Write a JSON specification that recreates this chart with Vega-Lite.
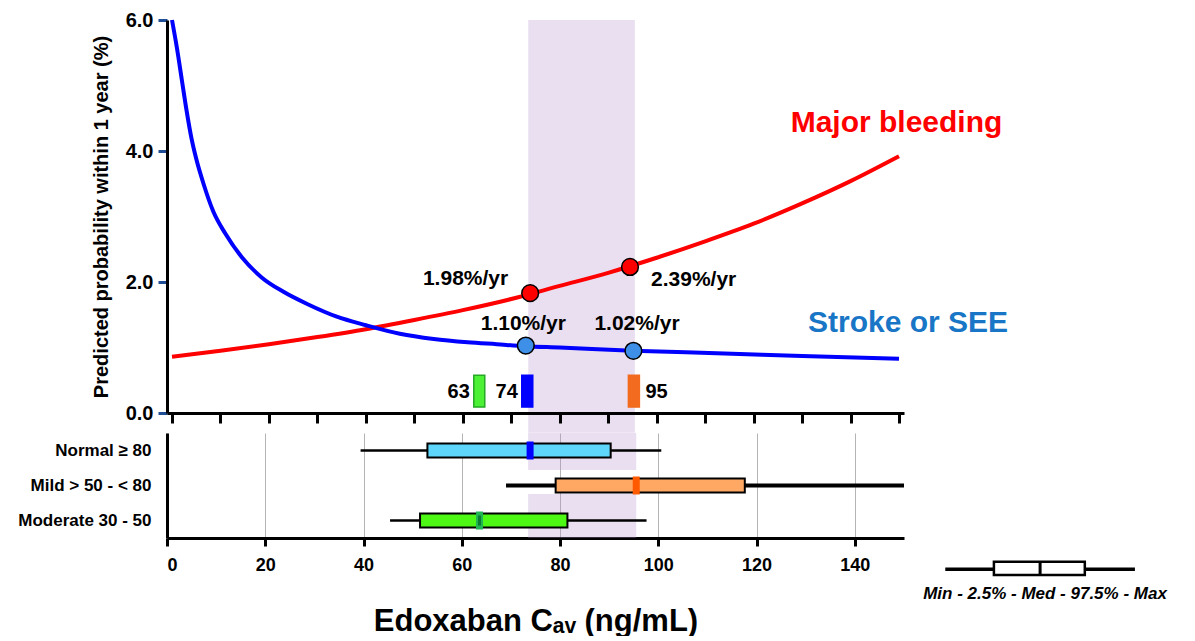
{
  "$schema": "https://vega.github.io/schema/vega-lite/v6.json",
  "background": "white",
  "padding": {"left": 17, "top": 10, "right": 5, "bottom": 0},
  "config": {
    "font": "Liberation Sans",
    "view": {"stroke": null},
    "axis": {"labelColor": "black", "titleColor": "black", "labelFont": "Liberation Sans", "titleFont": "Liberation Sans"}
  },
  "datasets": {
    "band": [{"from": 73.5, "to": 95.5}],
    "curves": [
      {"series": "Major bleeding", "conc": 0, "prob": 0.86},
      {"series": "Major bleeding", "conc": 10, "prob": 0.95},
      {"series": "Major bleeding", "conc": 20, "prob": 1.05},
      {"series": "Major bleeding", "conc": 30, "prob": 1.16},
      {"series": "Major bleeding", "conc": 40, "prob": 1.28},
      {"series": "Major bleeding", "conc": 50, "prob": 1.42},
      {"series": "Major bleeding", "conc": 60, "prob": 1.57},
      {"series": "Major bleeding", "conc": 70, "prob": 1.74},
      {"series": "Major bleeding", "conc": 80, "prob": 1.94},
      {"series": "Major bleeding", "conc": 90, "prob": 2.14},
      {"series": "Major bleeding", "conc": 100, "prob": 2.37},
      {"series": "Major bleeding", "conc": 110, "prob": 2.62},
      {"series": "Major bleeding", "conc": 120, "prob": 2.89},
      {"series": "Major bleeding", "conc": 130, "prob": 3.2},
      {"series": "Major bleeding", "conc": 140, "prob": 3.54},
      {"series": "Major bleeding", "conc": 150, "prob": 3.92},
      {"series": "Stroke or SEE", "conc": 0, "prob": 6.0},
      {"series": "Stroke or SEE", "conc": 1, "prob": 5.58},
      {"series": "Stroke or SEE", "conc": 2, "prob": 5.1},
      {"series": "Stroke or SEE", "conc": 3, "prob": 4.62},
      {"series": "Stroke or SEE", "conc": 4, "prob": 4.2},
      {"series": "Stroke or SEE", "conc": 5, "prob": 3.88},
      {"series": "Stroke or SEE", "conc": 6.5, "prob": 3.5},
      {"series": "Stroke or SEE", "conc": 8.5, "prob": 3.08},
      {"series": "Stroke or SEE", "conc": 11, "prob": 2.74},
      {"series": "Stroke or SEE", "conc": 14.5, "prob": 2.37},
      {"series": "Stroke or SEE", "conc": 18.5, "prob": 2.07},
      {"series": "Stroke or SEE", "conc": 23, "prob": 1.85},
      {"series": "Stroke or SEE", "conc": 28, "prob": 1.66},
      {"series": "Stroke or SEE", "conc": 34, "prob": 1.47},
      {"series": "Stroke or SEE", "conc": 40, "prob": 1.34},
      {"series": "Stroke or SEE", "conc": 47, "prob": 1.21},
      {"series": "Stroke or SEE", "conc": 54, "prob": 1.13},
      {"series": "Stroke or SEE", "conc": 61, "prob": 1.08},
      {"series": "Stroke or SEE", "conc": 67, "prob": 1.05},
      {"series": "Stroke or SEE", "conc": 73, "prob": 1.02},
      {"series": "Stroke or SEE", "conc": 80, "prob": 1.0},
      {"series": "Stroke or SEE", "conc": 95, "prob": 0.95},
      {"series": "Stroke or SEE", "conc": 114, "prob": 0.91},
      {"series": "Stroke or SEE", "conc": 130, "prob": 0.87},
      {"series": "Stroke or SEE", "conc": 150, "prob": 0.83}
    ],
    "points": [
      {"series": "Major bleeding", "conc": 73.9, "prob": 1.83, "label": "1.98%/yr"},
      {"series": "Major bleeding", "conc": 94.5, "prob": 2.23, "label": "2.39%/yr"},
      {"series": "Stroke or SEE", "conc": 73.0, "prob": 1.03, "label": "1.10%/yr"},
      {"series": "Stroke or SEE", "conc": 95.2, "prob": 0.95, "label": "1.02%/yr"}
    ],
    "medians": [
      {"group": "Moderate 30 - 50", "med": 63.4, "label": "63"},
      {"group": "Normal ≥ 80", "med": 73.3, "label": "74"},
      {"group": "Mild > 50 - < 80", "med": 95.3, "label": "95"}
    ],
    "boxes": [
      {"group": "Normal ≥ 80", "min": 39.4, "p2_5": 53.0, "med": 73.9, "p97_5": 90.3, "max": 100.6},
      {"group": "Mild > 50 - < 80", "min": 69.0, "p2_5": 79.1, "med": 95.5, "p97_5": 117.6, "max": 150},
      {"group": "Moderate 30 - 50", "min": 45.4, "p2_5": 51.5, "med": 63.6, "p97_5": 81.5, "max": 97.6}
    ]
  },
  "spacing": 0,
  "resolve": {"scale": {"x": "independent", "y": "independent", "color": "independent", "fill": "independent", "stroke": "independent", "strokeWidth": "independent"}},
  "vconcat": [
    {
      "width": 737,
      "height": 393,
      "resolve": {"scale": {"fill": "independent", "stroke": "independent"}},
      "layer": [
        {
          "data": {"name": "band"},
          "mark": {"type": "rect", "fill": "#b694cd", "opacity": 0.3},
          "encoding": {
            "x": {"field": "from", "type": "quantitative", "scale": {"domain": [0, 150], "nice": false},
              "axis": {"values": [0,10,20,30,40,50,60,70,80,90,100,110,120,130,140,150], "labels": false, "grid": false, "domainColor": "black", "domainWidth": 3, "tickColor": "black", "tickWidth": 3, "tickSize": 10, "title": null, "zindex": 1}},
            "x2": {"field": "to"},
            "y": {"datum": 6, "type": "quantitative", "scale": {"domain": [0, 6], "nice": false},
              "axis": {"values": [0, 2, 4, 6], "format": ".1f", "grid": false, "domainColor": "black", "domainWidth": 3, "tickColor": "#1f4e96", "tickWidth": 3, "tickSize": 9, "labelFontSize": 20, "labelFontWeight": "bold", "labelPadding": 5, "title": "Predicted probability within 1 year (%)", "titleFontSize": 20, "titleFontWeight": "bold", "titlePadding": 14}},
            "y2": {"datum": -0.3}
          }
        },
        {
          "data": {"name": "curves"},
          "mark": {"type": "line", "strokeWidth": 4, "interpolate": "monotone"},
          "encoding": {
            "x": {"field": "conc", "type": "quantitative"},
            "y": {"field": "prob", "type": "quantitative"},
            "color": {"field": "series", "type": "nominal", "scale": {"domain": ["Major bleeding", "Stroke or SEE"], "range": ["#ff0000", "#0000ff"]}, "legend": null}
          }
        },
        {
          "data": {"name": "points"},
          "mark": {"type": "circle", "size": 280, "stroke": "black", "strokeWidth": 1.5, "opacity": 1},
          "encoding": {
            "x": {"field": "conc", "type": "quantitative"},
            "y": {"field": "prob", "type": "quantitative"},
            "fill": {"field": "series", "type": "nominal", "scale": {"domain": ["Major bleeding", "Stroke or SEE"], "range": ["#ff0000", "#3d8fe8"]}, "legend": null}
          }
        },
        {
          "data": {"name": "points"},
          "transform": [{"filter": "datum.label === '1.98%/yr'"}],
          "mark": {"type": "text", "align": "right", "baseline": "alphabetic", "dx": -22, "dy": -8, "fontSize": 21, "fontWeight": "bold", "color": "black"},
          "encoding": {"x": {"field": "conc", "type": "quantitative"}, "y": {"field": "prob", "type": "quantitative"}, "text": {"field": "label"}}
        },
        {
          "data": {"name": "points"},
          "transform": [{"filter": "datum.label === '2.39%/yr'"}],
          "mark": {"type": "text", "align": "left", "baseline": "alphabetic", "dx": 21, "dy": 19, "fontSize": 21, "fontWeight": "bold", "color": "black"},
          "encoding": {"x": {"field": "conc", "type": "quantitative"}, "y": {"field": "prob", "type": "quantitative"}, "text": {"field": "label"}}
        },
        {
          "data": {"name": "points"},
          "transform": [{"filter": "datum.label === '1.10%/yr'"}],
          "mark": {"type": "text", "align": "center", "baseline": "alphabetic", "dx": -2.5, "dy": -15.5, "fontSize": 21, "fontWeight": "bold", "color": "black"},
          "encoding": {"x": {"field": "conc", "type": "quantitative"}, "y": {"field": "prob", "type": "quantitative"}, "text": {"field": "label"}}
        },
        {
          "data": {"name": "points"},
          "transform": [{"filter": "datum.label === '1.02%/yr'"}],
          "mark": {"type": "text", "align": "center", "baseline": "alphabetic", "dx": 3.6, "dy": -20.8, "fontSize": 21, "fontWeight": "bold", "color": "black"},
          "encoding": {"x": {"field": "conc", "type": "quantitative"}, "y": {"field": "prob", "type": "quantitative"}, "text": {"field": "label"}}
        },
        {
          "data": {"name": "curves"},
          "transform": [{"filter": "datum.series === 'Major bleeding' && datum.conc === 150"}],
          "mark": {"type": "text", "align": "center", "baseline": "alphabetic", "dx": -2.5, "dy": -24.5, "fontSize": 30, "fontWeight": "bold", "color": "#ff0000"},
          "encoding": {"x": {"field": "conc", "type": "quantitative"}, "y": {"field": "prob", "type": "quantitative"}, "text": {"field": "series"}}
        },
        {
          "data": {"name": "curves"},
          "transform": [{"filter": "datum.series === 'Stroke or SEE' && datum.conc === 150"}],
          "mark": {"type": "text", "align": "center", "baseline": "alphabetic", "dx": 9, "dy": -27, "fontSize": 30, "fontWeight": "bold", "color": "#1976c6"},
          "encoding": {"x": {"field": "conc", "type": "quantitative"}, "y": {"field": "prob", "type": "quantitative"}, "text": {"field": "series"}}
        },
        {
          "data": {"name": "medians"},
          "mark": {"type": "bar", "width": 11, "strokeWidth": 1.5},
          "encoding": {
            "x": {"field": "med", "type": "quantitative"},
            "y": {"datum": 0.575, "type": "quantitative"},
            "y2": {"datum": 0.09},
            "fill": {"field": "group", "type": "nominal", "scale": {"domain": ["Moderate 30 - 50", "Normal ≥ 80", "Mild > 50 - < 80"], "range": ["#4cf035", "#0000ff", "#f26b1e"]}, "legend": null},
            "stroke": {"field": "group", "type": "nominal", "scale": {"domain": ["Moderate 30 - 50", "Normal ≥ 80", "Mild > 50 - < 80"], "range": ["#26a826", "#0000ff", "#f26b1e"]}, "legend": null}
          }
        },
        {
          "data": {"name": "medians"},
          "transform": [{"filter": "datum.med < 90"}],
          "mark": {"type": "text", "align": "right", "baseline": "alphabetic", "dx": -9.5, "fontSize": 20, "fontWeight": "bold", "color": "black"},
          "encoding": {"x": {"field": "med", "type": "quantitative"}, "y": {"datum": 0.224, "type": "quantitative"}, "text": {"field": "label"}}
        },
        {
          "data": {"name": "medians"},
          "transform": [{"filter": "datum.med >= 90"}],
          "mark": {"type": "text", "align": "left", "baseline": "alphabetic", "dx": 11.5, "fontSize": 20, "fontWeight": "bold", "color": "black"},
          "encoding": {"x": {"field": "med", "type": "quantitative"}, "y": {"datum": 0.224, "type": "quantitative"}, "text": {"field": "label"}}
        }
      ]
    },
    {
      "width": 737,
      "height": 105,
      "resolve": {"scale": {"y": "independent"}},
      "layer": [
        {
          "data": {"name": "band"},
          "layer": [
            {
              "mark": {"type": "rect", "fill": "#b694cd", "opacity": 0.3},
              "encoding": {
                "x": {"field": "from", "type": "quantitative", "scale": {"domain": [0, 150], "nice": false}},
                "x2": {"field": "to"},
                "y": {"datum": 1, "type": "quantitative", "scale": {"domain": [0, 1], "nice": false}, "axis": null},
                "y2": {"datum": 0.648}
              }
            },
            {
              "mark": {"type": "rect", "fill": "#b694cd", "opacity": 0.3},
              "encoding": {
                "x": {"field": "from", "type": "quantitative"},
                "x2": {"field": "to"},
                "y": {"datum": 0.419, "type": "quantitative", "axis": null},
                "y2": {"datum": 0}
              }
            }
          ]
        },
        {
          "data": {"name": "boxes"},
          "layer": [
            {
              "mark": {"type": "rule", "color": "black"},
              "encoding": {
                "x": {"field": "min", "type": "quantitative", "scale": {"domain": [0, 150], "nice": false},
                  "axis": {"values": [0,20,40,60,80,100,120,140], "grid": true, "gridColor": "#b4b4b4", "gridWidth": 1, "domainColor": "black", "domainWidth": 3, "tickColor": "black", "tickWidth": 3, "tickSize": 8, "labelFontSize": 18, "labelFontWeight": "bold", "labelPadding": 10, "title": "Edoxaban Cₐᵥ (ng/mL)", "titleFontSize": 31, "titleFontWeight": "bold", "titlePadding": 32}},
                "x2": {"field": "max"},
                "y": {"field": "group", "type": "nominal", "scale": {"type": "band", "domain": ["Normal ≥ 80", "Mild > 50 - < 80", "Moderate 30 - 50"], "paddingInner": 0, "paddingOuter": 0},
                  "axis": {"domainColor": "black", "domainWidth": 3, "ticks": false, "labelFontSize": 17, "labelFontWeight": "bold", "labelPadding": 16, "title": null}},
                "strokeWidth": {"condition": {"test": "datum.group === 'Mild > 50 - < 80'", "value": 4}, "value": 2.5}
              }
            },
            {
              "mark": {"type": "bar", "height": 14, "stroke": "black", "strokeWidth": 2},
              "encoding": {
                "x": {"field": "p2_5", "type": "quantitative"},
                "x2": {"field": "p97_5"},
                "y": {"field": "group", "type": "nominal"},
                "fill": {"field": "group", "type": "nominal", "scale": {"domain": ["Normal ≥ 80", "Mild > 50 - < 80", "Moderate 30 - 50"], "range": ["#5ed6fb", "#ffa864", "#4cf814"]}, "legend": null}
              }
            },
            {
              "mark": {"type": "tick", "thickness": 7, "size": 18, "opacity": 1},
              "encoding": {
                "x": {"field": "med", "type": "quantitative"},
                "y": {"field": "group", "type": "nominal"},
                "color": {"field": "group", "type": "nominal", "scale": {"domain": ["Normal ≥ 80", "Mild > 50 - < 80", "Moderate 30 - 50"], "range": ["#0000ff", "#ff5a00", "#1fb553"]}, "legend": null}
              }
            },
            {
              "transform": [{"filter": "datum.group === 'Moderate 30 - 50'"}],
              "mark": {"type": "tick", "thickness": 3, "size": 10, "color": "#0b7a33", "opacity": 1},
              "encoding": {
                "x": {"field": "med", "type": "quantitative"},
                "y": {"field": "group", "type": "nominal"}
              }
            }
          ]
        },
        {
          "data": {"values": [{}]},
          "layer": [
            {
              "mark": {"type": "rule", "color": "black", "strokeWidth": 3.5},
              "encoding": {
                "x": {"datum": 158.4, "type": "quantitative"},
                "x2": {"datum": 197.0},
                "y": {"datum": -0.298, "type": "quantitative", "scale": {"domain": [0, 1], "nice": false}, "axis": null}
              }
            },
            {
              "mark": {"type": "rect", "fill": "white", "stroke": "black", "strokeWidth": 2.5},
              "encoding": {
                "x": {"datum": 168.3, "type": "quantitative"},
                "x2": {"datum": 186.8},
                "y": {"datum": -0.226, "type": "quantitative", "axis": null},
                "y2": {"datum": -0.352}
              }
            },
            {
              "mark": {"type": "rule", "color": "black", "strokeWidth": 3},
              "encoding": {
                "x": {"datum": 177.7, "type": "quantitative"},
                "y": {"datum": -0.226, "type": "quantitative", "axis": null},
                "y2": {"datum": -0.352}
              }
            },
            {
              "mark": {"type": "text", "text": "Min - 2.5% - Med - 97.5% - Max", "fontSize": 17, "fontWeight": "bold", "fontStyle": "italic", "align": "center", "baseline": "alphabetic", "color": "black"},
              "encoding": {
                "x": {"datum": 178.7, "type": "quantitative"},
                "y": {"datum": -0.584, "type": "quantitative", "axis": null}
              }
            }
          ]
        }
      ]
    }
  ]
}
